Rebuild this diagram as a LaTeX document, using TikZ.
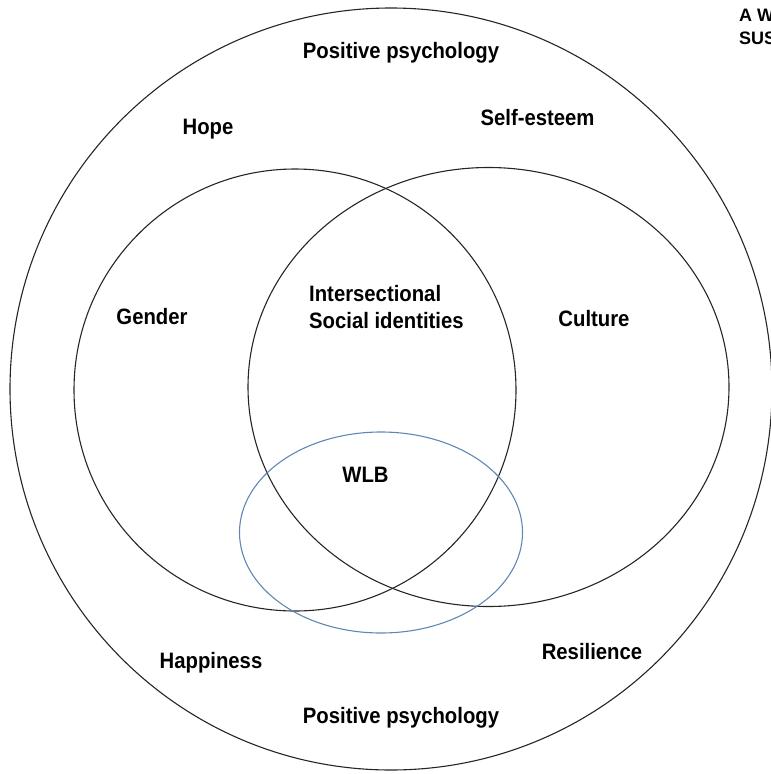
\documentclass[tikz,border=0pt]{standalone}
\usepackage{fontspec}
\usepackage{graphicx}
\setmainfont{Liberation Sans}
% bold labels, set a little taller than wide
\newcommand{\narrowlbl}[1]{\scalebox{0.91}[1]{#1}}
\begin{document}
\begin{tikzpicture}[x=1pt,y=-1pt,
  ring/.style={draw=black!85, line width=1.1pt},
  wlbring/.style={draw=wlbblue, line width=1.1pt},
  lbl/.style={font=\fontsize{22.3}{27}\selectfont\bfseries, inner sep=0pt, anchor=base},
  corner/.style={font=\fontsize{18}{23}\selectfont\bfseries, inner sep=0pt, anchor=base west, align=left}]
\definecolor{wlbblue}{RGB}{96,135,180}
\useasboundingbox (0,0) rectangle (771,774);
\clip (0,0) rectangle (771,774);

% outer field: positive psychology
\draw[ring] (391,389) circle (381);
% gender and culture
\draw[ring] (295,390) circle (221);
\draw[ring] (488.5,387) ellipse [x radius=240.5, y radius=219.5];
% work-life balance
\draw[wlbring] (381,532.5) ellipse [x radius=141.5, y radius=100.5];

\node[lbl] (pptop) at (401,58) {\narrowlbl{Positive psychology}};
\node[lbl] (hope) at (208,134) {\narrowlbl{Hope}};
\node[lbl] (self) at (537.5,125) {\narrowlbl{Self-esteem}};
\node[lbl] (gender) at (152,324.5) {\narrowlbl{Gender}};
\node[lbl, anchor=base west] (isi) at (309,301)
  {\narrowlbl{\begin{tabular}[t]{@{}l@{}}Intersectional\\Social identities\end{tabular}}};
\node[lbl] (culture) at (594,326) {\narrowlbl{Culture}};
\node[lbl] (wlb) at (365.5,482) {\narrowlbl{WLB}};
\node[lbl] (happy) at (211,668) {\narrowlbl{Happiness}};
\node[lbl] (resil) at (592,659) {\narrowlbl{Resilience}};
\node[lbl] (ppbot) at (401,723) {\narrowlbl{Positive psychology}};
\node[corner] (title) at (739,44) {A W\\SUS};
\end{tikzpicture}
\end{document}
